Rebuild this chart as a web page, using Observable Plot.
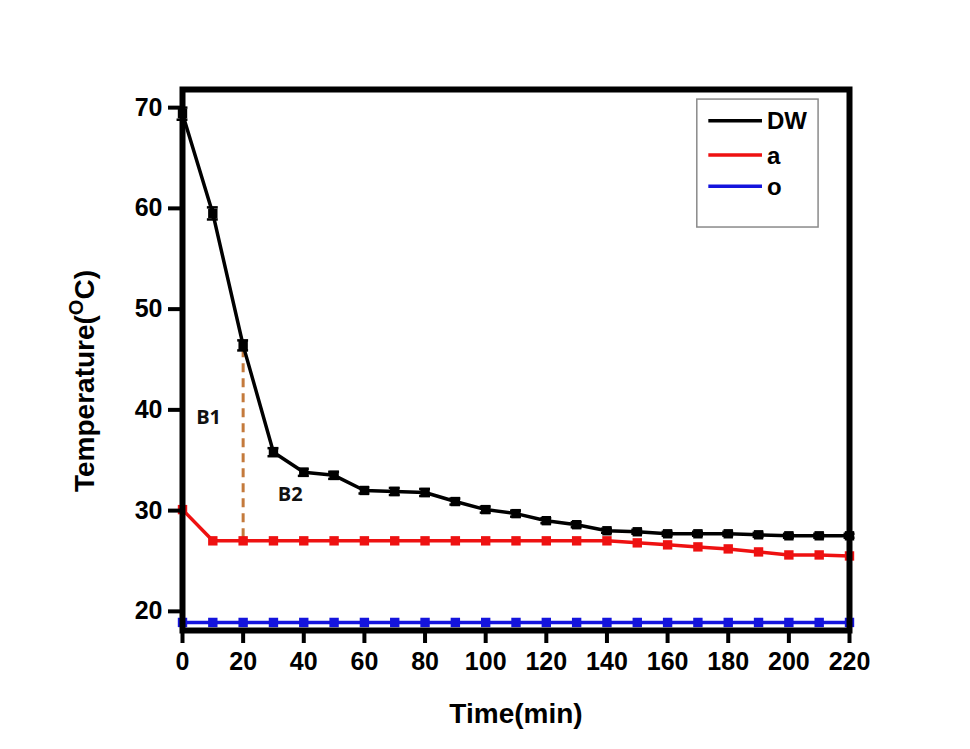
<!DOCTYPE html>
<html>
<head>
<meta charset="utf-8">
<script src="https://cdn.jsdelivr.net/npm/d3@7"></script>
<script src="https://cdn.jsdelivr.net/npm/@observablehq/plot@0.6"></script>
<style>
  html, body { margin: 0; padding: 0; background: #fff; }
  #chart svg { display: block; font-family: "Liberation Sans", Arial, sans-serif; }
</style>
</head>
<body>
<div id="chart"></div>
<script>
// ---- data ----
const times = [0,10,20,30,40,50,60,70,80,90,100,110,120,130,140,150,160,170,180,190,200,210,220];
const dwValues = [69.4,59.5,46.4,35.8,33.8,33.5,32.0,31.9,31.8,30.9,30.1,29.7,29.0,28.6,28.0,27.9,27.7,27.7,27.7,27.6,27.5,27.5,27.5];
const dwErrors = [0.6,0.6,0.5,0.4,0.35,0.35,0.3,0.35,0.35,0.3,0.3,0.3,0.25,0.25,0.2,0.2,0.2,0.2,0.2,0.2,0.2,0.2,0.2];
const aValues  = [30.1,27.0,27.0,27.0,27.0,27.0,27.0,27.0,27.0,27.0,27.0,27.0,27.0,27.0,27.0,26.8,26.6,26.4,26.2,25.9,25.6,25.6,25.5];
const oValues  = [18.9,18.9,18.9,18.9,18.9,18.9,18.9,18.9,18.9,18.9,18.9,18.9,18.9,18.9,18.9,18.9,18.9,18.9,18.9,18.9,18.9,18.9,18.9];
const seriesNames = ["DW","a","o"];
const seriesColors = ["#000000","#ee1111","#1414dd"];
const xTicks = [0,20,40,60,80,100,120,140,160,180,200,220];
const yTicks = [20,30,40,50,60,70];
// annotation: dashed guide at t=20 between the two curves
const guide = {t: 20, from: 27.3, to: 46.0};
const annotations = [{label: "B1", t: 8.6, v: 39.2}, {label: "B2", t: 35.5, v: 31.6}];

// ---- tidy table ----
const valuesBySeries = [dwValues, aValues, oValues];
const rows = [];
seriesNames.forEach((s, i) => times.forEach((t, j) => rows.push({series: s, t, v: valuesBySeries[i][j]})));
const errRows = times.map((t, j) => ({t, lo: dwValues[j] - dwErrors[j], hi: dwValues[j] + dwErrors[j]}));

// legend placement (in data space, top-right inside the frame)
const legBox = {x1: 169.8, x2: 209.8, y1: 58.1, y2: 70.8};
const legRows = seriesNames.map((s, i) => ({series: s, y: [68.7, 65.3, 62.2][i]}));

const color = d3.scaleOrdinal(seriesNames, seriesColors);
const capHalf = 1.8;

const chart = Plot.plot({
  width: 970,
  height: 749,
  marginLeft: 182,
  marginRight: 121,
  marginTop: 89,
  marginBottom: 119,
  x: {domain: [0, 220]},
  y: {domain: [18.1, 71.8]},
  style: {background: "#fff", color: "#000"},
  marks: [
    // dashed guide
    Plot.ruleX([guide], {x: "t", y1: "from", y2: "to", stroke: "#c47a3c", strokeWidth: 3, strokeDasharray: "9,6"}),
    // lines
    Plot.line(rows, {x: "t", y: "v", z: "series", stroke: d => color(d.series), strokeWidth: 3.5}),
    // error bars
    Plot.ruleX(errRows, {x: "t", y1: "lo", y2: "hi", stroke: "#000", strokeWidth: 2.5}),
    Plot.ruleY(errRows, {y: "lo", x1: d => d.t - capHalf, x2: d => d.t + capHalf, stroke: "#000", strokeWidth: 2.5}),
    Plot.ruleY(errRows, {y: "hi", x1: d => d.t - capHalf, x2: d => d.t + capHalf, stroke: "#000", strokeWidth: 2.5}),
    // markers
    Plot.dot(rows, {x: "t", y: "v", symbol: "square", r: 5.3, fill: d => color(d.series), stroke: "none"}),
    // annotations
    Plot.text(annotations, {x: "t", y: "v", text: "label", fontSize: 20, fontWeight: "bold", fontFamily: "Open Sans, Lato, sans-serif", fill: "#111"}),
    // legend
    Plot.rect([legBox], {x1: "x1", x2: "x2", y1: "y1", y2: "y2", fill: "#fff", stroke: "#8a8a8a", strokeWidth: 1.5}),
    Plot.ruleY(legRows, {y: "y", x1: 173.6, x2: 191.3, stroke: d => color(d.series), strokeWidth: 3.5}),
    Plot.text(legRows, {x: 192.8, y: "y", text: "series", textAnchor: "start", fontSize: 24, fontWeight: "bold", fill: "#000", dy: 1}),
    // axes
    Plot.axisX({ticks: xTicks, tickSize: 13, tickPadding: 9, strokeWidth: 4, fontSize: 25, fontWeight: "bold", label: null}),
    Plot.axisY({ticks: yTicks, tickSize: 14, tickPadding: 6, strokeWidth: 4, fontSize: 25, fontWeight: "bold", label: null}),
    Plot.frame({stroke: "#000", strokeWidth: 6})
  ]
});

document.getElementById("chart").appendChild(chart);

// axis titles
const svg = d3.select(chart);
svg.append("text")
  .attr("x", 516).attr("y", 723)
  .attr("text-anchor", "middle")
  .attr("font-size", 28).attr("font-weight", "bold")
  .attr("font-family", "Liberation Sans, Arial, sans-serif")
  .attr("fill", "#000")
  .text("Time(min)");

const yt = svg.append("text")
  .attr("transform", "translate(94,381) rotate(-90)")
  .attr("text-anchor", "middle")
  .attr("font-size", 28).attr("font-weight", "bold")
  .attr("font-family", "Liberation Sans, Arial, sans-serif")
  .attr("fill", "#000");
yt.append("tspan").text("Temperature(");
yt.append("tspan").attr("font-size", 20).attr("dy", -11).text("O");
yt.append("tspan").attr("dy", 11).text("C)");
</script>
</body>
</html>
